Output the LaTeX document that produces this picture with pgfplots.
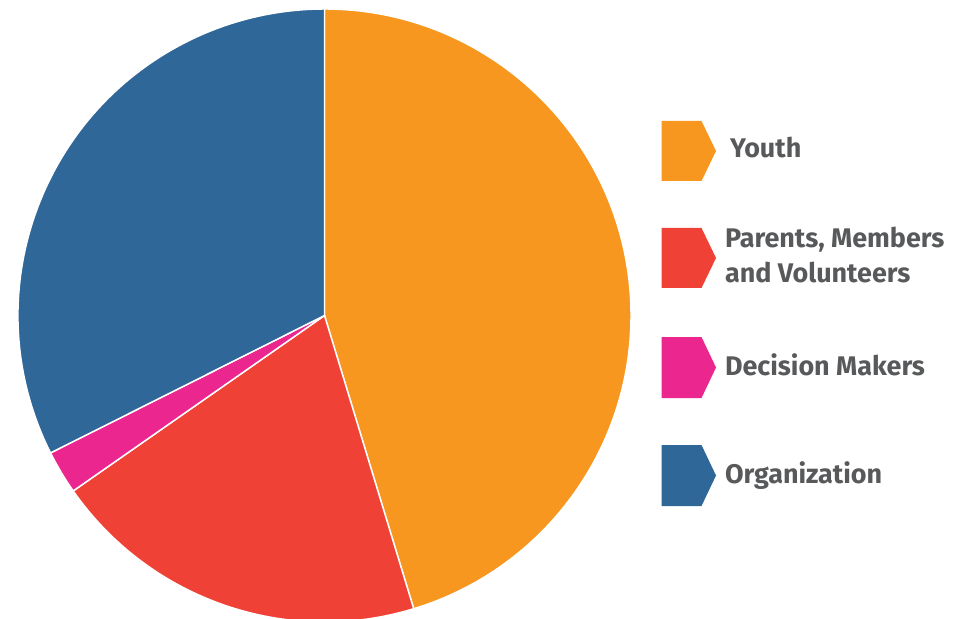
\documentclass[border=0pt]{standalone}
\usepackage{pgfplots}
\usepackage{pgfplotstable}
\pgfplotsset{compat=1.18}
\usepackage{fontspec}
\setmainfont{Fira Sans}
\definecolor{c0}{HTML}{F7971F}
\definecolor{c1}{HTML}{EF4136}
\definecolor{c2}{HTML}{EC268F}
\definecolor{c3}{HTML}{306799}
\definecolor{txt}{HTML}{58595B}
\pgfplotstableread{
value
45.3
20.0
2.3
32.4
}\piedata
\begin{document}
\begin{tikzpicture}
\def\cum{90}%
\pgfplotstableforeachcolumnelement{value}\of\piedata\as\v{%
  \pgfmathsetmacro\e{\cum-3.6*\v}%
  \expandafter\xdef\csname sA\pgfplotstablerow\endcsname{\cum}%
  \expandafter\xdef\csname sE\pgfplotstablerow\endcsname{\e}%
  \xdef\cum{\e}%
}%
\begin{axis}[hide axis, scale only axis, width=724.5pt, height=463.5pt,
  xmin=0, xmax=966, ymin=0, ymax=618]
\addplot[draw=none, forget plot] coordinates {(0,0) (966,618)};
\path (rel axis cs:0,0) rectangle (rel axis cs:1,1);
\pgfplotsinvokeforeach{0,...,3}{
  \fill[c#1, draw=white, line width=1.1pt, line join=round] (axis cs:324.5,302.5) -- ++(\csname sA#1\endcsname:229.875pt)
    arc[start angle=\csname sA#1\endcsname, end angle=\csname sE#1\endcsname, radius=229.875pt] -- cycle;
}
% legend swatches
\fill[c0] (axis cs:661.5,497) -- (axis cs:701.5,497) -- (axis cs:716,467) -- (axis cs:701.5,437) -- (axis cs:661.5,437) -- cycle;
\fill[c1] (axis cs:661.5,390) -- (axis cs:701.5,390) -- (axis cs:716,360) -- (axis cs:701.5,330) -- (axis cs:661.5,330) -- cycle;
\fill[c2] (axis cs:661.5,281) -- (axis cs:701.5,281) -- (axis cs:716,250.5) -- (axis cs:701.5,220) -- (axis cs:661.5,220) -- cycle;
\fill[c3] (axis cs:661.5,173) -- (axis cs:701.5,173) -- (axis cs:716,142.5) -- (axis cs:701.5,112) -- (axis cs:661.5,112) -- cycle;
\begin{scope}[every node/.style={anchor=base west, inner sep=0pt, outer sep=0pt, text=txt, font=\fontsize{20.2}{26.25}\selectfont\bfseries}]
\node at (axis cs:730,460) {Youth};
\node[align=left] at (axis cs:725,335) {Parents, Members\\and Volunteers};
\node at (axis cs:725,243) {Decision Makers};
\node at (axis cs:725,135) {Organization};
\end{scope}
\end{axis}
\end{tikzpicture}
\end{document}
